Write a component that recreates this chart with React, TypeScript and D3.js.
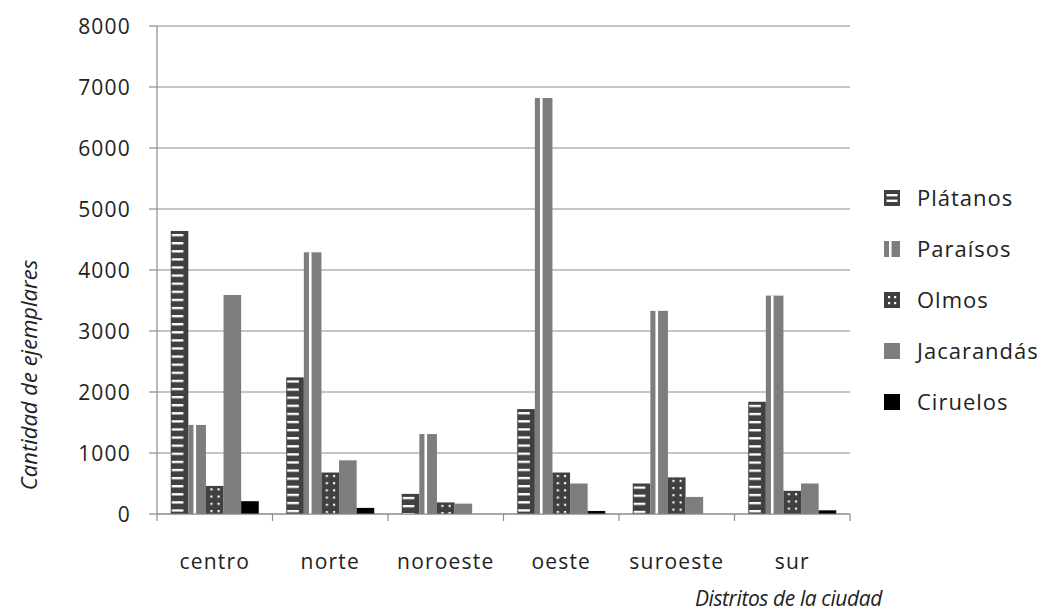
import React from "react";
import * as d3 from "d3";

const categories = ["centro", "norte", "noroeste", "oeste", "suroeste", "sur"];
const series = ["Plátanos", "Paraísos", "Olmos", "Jacarandás", "Ciruelos"];
const platanos = [4640, 2240, 330, 1720, 500, 1840];
const paraisos = [1460, 4290, 1310, 6820, 3330, 3580];
const olmos = [460, 680, 190, 680, 600, 380];
const jacarandas = [3590, 880, 170, 500, 280, 500];
const ciruelos = [210, 100, 0, 50, 0, 60];
const values = [platanos, paraisos, olmos, jacarandas, ciruelos];
const yTicks = [0, 1000, 2000, 3000, 4000, 5000, 6000, 7000, 8000];

const W = 1043, H = 616;
const left = 157, right = 850, top = 26, bottom = 514;
const DARK = "#404040", GRAY = "#7d7d7d", BLACK = "#000000", GRID = "#8c8c8c";
const FONT = "'Open Sans', 'Noto Sans', sans-serif";

export default function App() {
  const x = d3.scaleBand<string>().domain(categories).range([left, right]).padding(0);
  const xs = d3.scaleBand<string>().domain(series).range([0, x.bandwidth()]).paddingInner(0).paddingOuter(0.78);
  const y = d3.scaleLinear().domain([0, 8000]).range([bottom, top]);
  const bw = xs.bandwidth();

  const bars: any[] = [];
  series.forEach((s, si) => {
    categories.forEach((c, ci) => {
      const v = values[si][ci];
      if (v <= 0) return;
      const bx = (x(c) as number) + (xs(s) as number);
      const by = y(v);
      bars.push({ s, si, c, ci, bx, by, h: bottom - by, id: `p${si}_${ci}` });
    });
  });

  const patternFor = (b: any) => {
    if (b.si === 0) {
      return (
        <pattern key={b.id} id={b.id} patternUnits="userSpaceOnUse" x={b.bx} y={b.by + 3} width={bw} height={8.1}>
          <rect width={bw} height={8.1} fill={DARK} />
          <rect x={1} y={0} width={bw * 0.66} height={2.3} fill="#fff" />
        </pattern>
      );
    }
    if (b.si === 2) {
      return (
        <pattern key={b.id} id={b.id} patternUnits="userSpaceOnUse" x={b.bx} y={b.by + 2.4} width={bw} height={7.2}>
          <rect width={bw} height={7.2} fill={DARK} />
          <rect x={bw * 0.25} y={0} width={2.1} height={2.1} fill="#fff" />
          <rect x={bw * 0.66} y={0} width={2.1} height={2.1} fill="#fff" />
        </pattern>
      );
    }
    return null;
  };

  const fillFor = (b: any) => {
    if (b.si === 0 || b.si === 2) return `url(#${b.id})`;
    if (b.si === 1 || b.si === 3) return GRAY;
    return BLACK;
  };

  const legendY = d3.scalePoint<string>().domain(series).range([198, 402]);

  return (
    <svg width={W} height={H} style={{ position: "absolute", left: 0, top: 0, background: "#fff" }}>
      <defs>{bars.map(patternFor)}</defs>
      <rect width={W} height={H} fill="#fff" />
      {yTicks.map((t) => (
        <line key={t} x1={left} x2={right} y1={y(t)} y2={y(t)} stroke={GRID} strokeWidth={1.2} />
      ))}
      <line x1={left} x2={left} y1={top} y2={bottom} stroke={GRID} strokeWidth={1.2} />
      {yTicks.map((t) => (
        <g key={"yt" + t}>
          <line x1={left - 8} x2={left} y1={y(t)} y2={y(t)} stroke={GRID} strokeWidth={1.2} />
          <text x={131} y={y(t)} dy="0.36em" textAnchor="end" fontFamily={FONT} fontSize={21} letterSpacing={1.2} fill="#222">
            {t}
          </text>
        </g>
      ))}
      {[...categories.map((c) => x(c) as number), right].map((tx, i) => (
        <line key={"xt" + i} x1={tx} x2={tx} y1={bottom} y2={bottom + 7} stroke={GRID} strokeWidth={1.2} />
      ))}
      {bars.map((b) => (
        <g key={"b" + b.id}>
          <rect x={b.bx} y={b.by} width={bw} height={b.h} fill={fillFor(b)} />
          {b.si === 1 && <rect x={b.bx + bw * 0.29} y={b.by} width={bw * 0.15} height={b.h} fill="#fff" />}
        </g>
      ))}
      <line x1={left} x2={right} y1={bottom} y2={bottom} stroke={GRID} strokeWidth={1.2} />
      {categories.map((c) => (
        <text key={c} x={(x(c) as number) + x.bandwidth() / 2} y={561} dy="0.36em" textAnchor="middle" fontFamily={FONT} fontSize={21} letterSpacing={1.2} fill="#222">
          {c}
        </text>
      ))}
      <text transform={`translate(29,375) rotate(-90)`} textAnchor="middle" dy="0.36em" fontFamily={FONT} fontStyle="italic" fontSize={22} fill="#222">
        Cantidad de ejemplares
      </text>
      <text x={882} y={598} dy="0.36em" textAnchor="end" fontFamily={FONT} fontStyle="italic" fontSize={21} letterSpacing={-0.4} fill="#222">
        Distritos de la ciudad
      </text>
      {series.map((s, si) => {
        const ly = legendY(s) as number;
        const sx = 884, sz = 16;
        return (
          <g key={"lg" + s}>
            {si === 0 && (
              <g>
                <rect x={sx} y={ly - sz / 2} width={sz} height={sz} fill={DARK} />
                <rect x={sx + 2.5} y={ly - 4} width={sz - 5} height={2.4} fill="#fff" />
                <rect x={sx + 2.5} y={ly + 1.6} width={sz - 5} height={2.4} fill="#fff" />
              </g>
            )}
            {si === 1 && (
              <g>
                <rect x={sx} y={ly - sz / 2} width={sz} height={sz} fill={GRAY} />
                <rect x={sx + 5} y={ly - sz / 2} width={2.5} height={sz} fill="#fff" />
              </g>
            )}
            {si === 2 && (
              <g>
                <rect x={sx} y={ly - sz / 2} width={sz} height={sz} fill={DARK} />
                {[4, 10].map((dx) => [4, 10].map((dy) => (
                  <rect key={`${dx}${dy}`} x={sx + dx} y={ly - sz / 2 + dy} width={2.2} height={2.2} fill="#fff" />
                )))}
              </g>
            )}
            {si === 3 && <rect x={sx} y={ly - sz / 2} width={sz} height={sz} fill={GRAY} />}
            {si === 4 && <rect x={sx} y={ly - sz / 2} width={sz} height={sz} fill={BLACK} />}
            <text x={917} y={ly} dy="0.36em" fontFamily={FONT} fontSize={22} letterSpacing={1} fill="#222">
              {s}
            </text>
          </g>
        );
      })}
    </svg>
  );
}
